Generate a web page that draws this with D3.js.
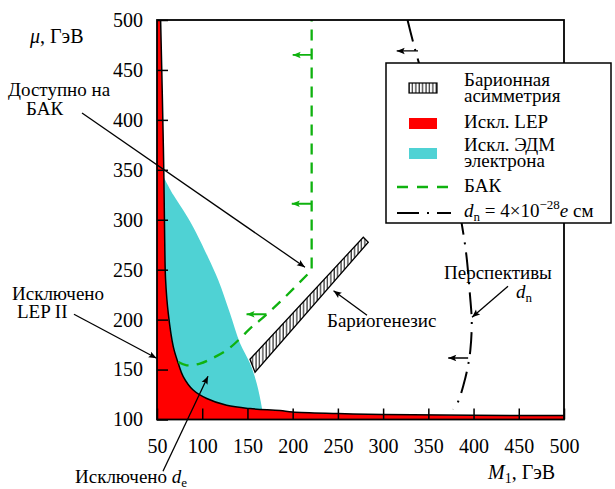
<!DOCTYPE html>
<html>
<head>
<meta charset="utf-8">
<script src="https://cdn.jsdelivr.net/npm/d3@7"></script>
<style>
  body { margin: 0; background: #fff; }
  svg { display: block; }
  svg text { font-family: "Liberation Serif", "Times New Roman", serif; }
</style>
</head>
<body>
<svg id="chart" width="615" height="489"></svg>
<script>
const xTicks = [50, 100, 150, 200, 250, 300, 350, 400, 450, 500];
const yTicks = [100, 150, 200, 250, 300, 350, 400, 450, 500];

// boundary of the LEP exclusion, [M1, mu]
const lepBoundary = [[54, 500], [56, 420], [57.5, 350], [58.5, 280], [59.5, 240], [62.5, 206], [68, 173],
  [73.6, 156], [79, 143], [90, 129.5], [105, 121], [127, 114.2], [153, 110.9], [186, 109],
  [200, 107.5], [250, 106], [300, 105], [400, 104.2], [500, 104]];
// right edge of the electron EDM exclusion
const edmEdge = [[57.7, 342], [68, 325], [78.7, 310], [89.8, 293], [106.4, 262.5], [117.8, 239.5],
  [130.7, 206.4], [141.8, 176.4], [152.8, 156.3], [160.2, 136.3], [165.8, 112.5], [167.5, 100]];
// LHC reach
const lhcReach = [[73.6, 157.6], [82.8, 154.3], [97.5, 156], [110.5, 161], [127, 169.3], [141.8, 181],
  [152.8, 191], [163.9, 199.4], [186, 217.7], [221, 249.5]];
const lhcTop = [221, 500];
// baryon asymmetry band (corners)
const baryonBand = [[152.8, 160.3], [278.1, 282.5], [283.6, 277.5], [158.4, 147.3]];
// d_n = 4e-28 e cm
const dnCurve = [[327, 500], [334, 475], [345, 440], [362, 390], [378, 340], [388, 290], [392, 265],
  [396, 225], [398, 198], [396.5, 170], [393.5, 152], [389, 135], [383, 118], [377.5, 110]];
// little arrows: [from M1, to M1, mu]
const lhcArrows = [[221, 200, 465], [221, 199, 316], [171, 149, 205.4]];
const dnArrows = [[338.6, 315, 469], [394, 372, 161.6]];

const red = '#ff0000', cyan = '#4fd2d4', green = '#0fb20f';
const serif = '"Liberation Serif", "Times New Roman", serif';
const svg = d3.select('#chart').attr('font-family', serif);

const x = d3.scaleLinear().domain([50, 500]).range([157, 564]);
const y = d3.scaleLinear().domain([100, 500]).range([419.5, 20]);

const defs = svg.append('defs');
defs.append('clipPath').attr('id', 'plot-clip')
  .append('rect').attr('x', x(50)).attr('y', y(500))
  .attr('width', x(500) - x(50)).attr('height', y(100) - y(500));

const hatch = defs.append('pattern').attr('id', 'hatch')
  .attr('patternUnits', 'userSpaceOnUse').attr('width', 3.4).attr('height', 10);
hatch.append('rect').attr('width', 3.4).attr('height', 10).attr('fill', '#fff');
hatch.append('line').attr('x1', 1).attr('x2', 1).attr('y1', 0).attr('y2', 10)
  .attr('stroke', '#000').attr('stroke-width', 1);

function marker(id, color) {
  defs.append('marker').attr('id', id)
    .attr('viewBox', '0 -5 10 10').attr('refX', 10).attr('refY', 0)
    .attr('markerUnits', 'userSpaceOnUse')
    .attr('markerWidth', 11).attr('markerHeight', 8).attr('orient', 'auto')
    .append('path').attr('d', 'M0,-4L10,0L0,4L2,0Z').attr('fill', color);
}
marker('arrow-black', '#000');
marker('arrow-green', green);

const line = d3.line().x(d => x(d[0])).y(d => y(d[1]));
const smooth = d3.line().x(d => x(d[0])).y(d => y(d[1])).curve(d3.curveCatmullRom.alpha(0.5));

const plot = svg.append('g').attr('clip-path', 'url(#plot-clip)');

// EDM region (cyan), its left part is covered by LEP
plot.append('path')
  .attr('d', smooth(edmEdge) + `L${x(50)},${y(100)}L${x(50)},${y(342)}Z`)
  .attr('fill', cyan);

// baryon asymmetry band
plot.append('path')
  .attr('d', line(baryonBand) + 'Z')
  .attr('fill', 'url(#hatch)')
  .attr('stroke', '#000').attr('stroke-width', 1.3);

// LEP region
plot.append('path')
  .attr('d', smooth(lepBoundary) + `L${x(500)},${y(100)}L${x(50)},${y(100)}L${x(50)},${y(500)}Z`)
  .attr('fill', red);
plot.append('path')
  .attr('d', smooth(lepBoundary))
  .attr('fill', 'none').attr('stroke', '#000').attr('stroke-width', 1.5);

// LHC reach
plot.append('path')
  .attr('d', smooth(lhcReach) + `L${x(lhcTop[0])},${y(lhcTop[1])}`)
  .attr('fill', 'none').attr('stroke', green).attr('stroke-width', 2.3)
  .attr('stroke-dasharray', '11,8');

plot.selectAll('.lhc-arrow')
  .data(lhcArrows)
  .enter()
  .append('line')
  .attr('x1', d => x(d[0])).attr('x2', d => x(d[1]))
  .attr('y1', d => y(d[2])).attr('y2', d => y(d[2]))
  .attr('stroke', green).attr('stroke-width', 1.8)
  .attr('marker-end', 'url(#arrow-green)');

// d_n curve
plot.append('path')
  .attr('d', smooth(dnCurve))
  .attr('fill', 'none').attr('stroke', '#000').attr('stroke-width', 2)
  .attr('stroke-dasharray', '22,8,2,8');

plot.selectAll('.dn-arrow')
  .data(dnArrows)
  .enter()
  .append('line')
  .attr('x1', d => x(d[0])).attr('x2', d => x(d[1]))
  .attr('y1', d => y(d[2])).attr('y2', d => y(d[2]))
  .attr('stroke', '#000').attr('stroke-width', 1.3)
  .attr('marker-end', 'url(#arrow-black)');

// axes with inward ticks
const xAxis = svg.append('g')
  .attr('transform', `translate(0,${y(100)})`)
  .call(d3.axisBottom(x).tickValues(xTicks).tickSize(-11).tickPadding(19));
const yAxis = svg.append('g')
  .attr('transform', `translate(${x(50)},0)`)
  .call(d3.axisLeft(y).tickValues(yTicks).tickSize(-11).tickPadding(14));
[xAxis, yAxis].forEach(g => {
  g.attr('font-family', serif).attr('font-size', 20);
  g.select('.domain').remove();
  g.selectAll('line').attr('stroke', '#000').attr('stroke-width', 1.5);
  g.selectAll('text').attr('fill', '#000');
});

svg.append('rect')
  .attr('x', x(50)).attr('y', y(500))
  .attr('width', x(500) - x(50)).attr('height', y(100) - y(500))
  .attr('fill', 'none').attr('stroke', '#000').attr('stroke-width', 1.8);

// axis titles
const yTitle = svg.append('text').attr('x', 30).attr('y', 43).attr('font-size', 20);
yTitle.append('tspan').attr('font-style', 'italic').text('μ');
yTitle.append('tspan').text(', ГэВ');
const xTitle = svg.append('text').attr('x', 488).attr('y', 479).attr('font-size', 20);
xTitle.append('tspan').attr('font-style', 'italic').text('M');
xTitle.append('tspan').attr('dy', 4).attr('font-size', 14).text('1');
xTitle.append('tspan').attr('dy', -4).text(', ГэВ');

// legend
const lg = svg.append('g').attr('font-size', 19);
lg.append('rect').attr('x', 386).attr('y', 63).attr('width', 225).attr('height', 160)
  .attr('fill', '#fff').attr('stroke', '#000').attr('stroke-width', 1.5);
lg.append('rect').attr('x', 409).attr('y', 83).attr('width', 28).attr('height', 10)
  .attr('fill', 'url(#hatch)').attr('stroke', '#000').attr('stroke-width', 1.2);
lg.append('rect').attr('x', 409).attr('y', 118).attr('width', 28).attr('height', 11).attr('fill', red);
lg.append('rect').attr('x', 409).attr('y', 148).attr('width', 28).attr('height', 11).attr('fill', cyan);
lg.append('line').attr('x1', 397).attr('x2', 451).attr('y1', 187).attr('y2', 187)
  .attr('stroke', green).attr('stroke-width', 2.3).attr('stroke-dasharray', '11,9');
lg.append('line').attr('x1', 397).attr('x2', 451).attr('y1', 213).attr('y2', 213)
  .attr('stroke', '#000').attr('stroke-width', 2).attr('stroke-dasharray', '22,8,2,8');

const legendText = [
  ['Барионная', 86], ['асимметрия', 101.5], ['Искл. LEP', 128],
  ['Искл. ЭДМ', 151], ['электрона', 166.5], ['БАК', 192]
];
lg.selectAll('.lt')
  .data(legendText)
  .enter()
  .append('text')
  .attr('x', 464).attr('y', d => d[1])
  .text(d => d[0]);

const dnLabel = lg.append('text').attr('x', 464).attr('y', 217);
dnLabel.append('tspan').attr('font-style', 'italic').text('d');
dnLabel.append('tspan').attr('dy', 4).attr('font-size', 13).text('n');
dnLabel.append('tspan').attr('dy', -4).text(' = 4×10');
dnLabel.append('tspan').attr('dy', -8).attr('font-size', 13).text('−28');
dnLabel.append('tspan').attr('dy', 8).attr('font-style', 'italic').text('e');
dnLabel.append('tspan').text(' см');

// annotations: text position in pixels, arrows in data units [M1, mu]
const notes = svg.append('g').attr('font-size', 19);
function arrow(from, to) {
  notes.append('line')
    .attr('x1', x(from[0])).attr('y1', y(from[1]))
    .attr('x2', x(to[0])).attr('y2', y(to[1]))
    .attr('stroke', '#000').attr('stroke-width', 1.3)
    .attr('marker-end', 'url(#arrow-black)');
}

notes.append('text').attr('x', 8).attr('y', 96).text('Доступно на');
notes.append('text').attr('x', 26).attr('y', 115).text('БАК');
arrow([-32.9, 406.8], [213.6, 252.5]);

notes.append('text').attr('x', 12).attr('y', 300).text('Исключено');
notes.append('text').attr('x', 17).attr('y', 318).text('LEP II');
arrow([-41.8, 205.4], [49.6, 161.3]);

const deLabel = notes.append('text').attr('x', 75).attr('y', 483);
deLabel.append('tspan').text('Исключено ');
deLabel.append('tspan').attr('font-style', 'italic').text('d');
deLabel.append('tspan').attr('dy', 4).attr('font-size', 13).text('e');
arrow([56.6, 48.1], [106.4, 143.3]);

notes.append('text').attr('x', 327).attr('y', 327).text('Бариогенезис');
arrow([282.2, 204.4], [245.2, 229]);

notes.append('text').attr('x', 444).attr('y', 279).text('Перспективы');
const pn = notes.append('text').attr('x', 516).attr('y', 298);
pn.append('tspan').attr('font-style', 'italic').text('d');
pn.append('tspan').attr('dy', 4).attr('font-size', 13).text('n');
arrow([438.1, 233.5], [398.3, 202.4]);
</script>
</body>
</html>
